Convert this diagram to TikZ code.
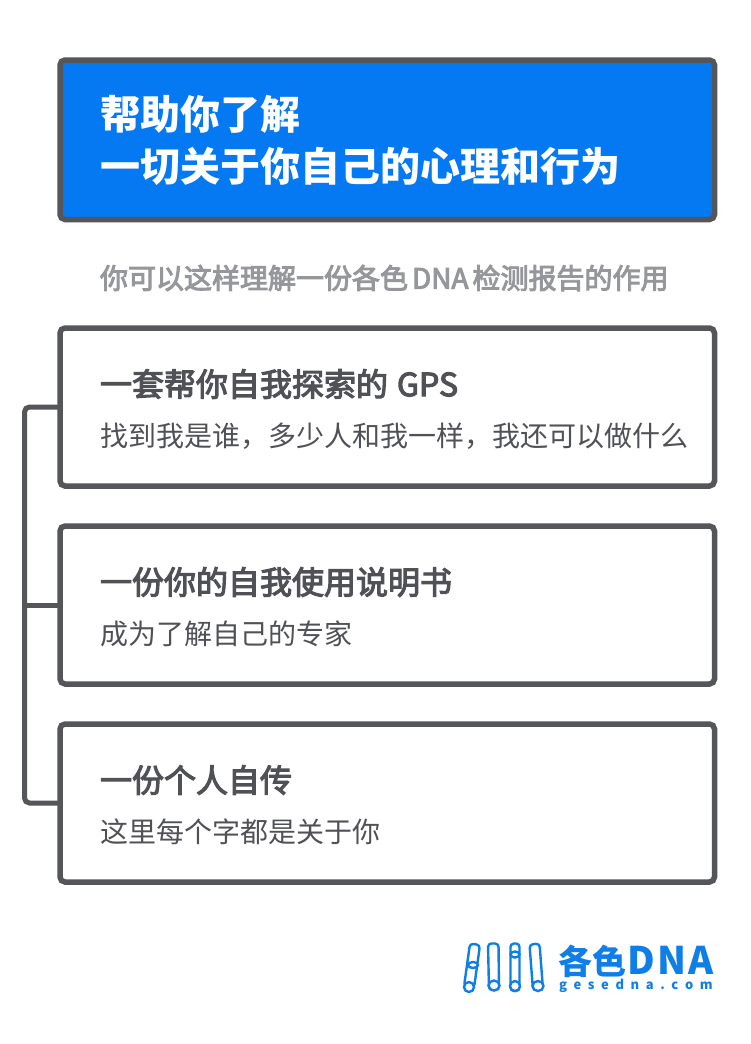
\documentclass[tikz,border=0pt]{standalone}
\usepackage{fontspec}
\setmainfont{Noto Sans CJK SC}
\newfontfamily\medf{Noto Sans CJK SC}[FakeBold=3.4]
\definecolor{edge}{HTML}{55565A}
\definecolor{blue}{HTML}{0579F2}
\definecolor{greyt}{HTML}{96979B}
\definecolor{darkt}{HTML}{505156}
\definecolor{logob}{HTML}{0F7FE6}
\tikzset{
 panel/.style={draw=edge,line width=5.5pt,rounded corners=5pt,minimum width=654.5pt,inner sep=0pt,outer sep=0pt,anchor=north west,fill=white},
 conn/.style={draw=edge,line width=5pt},
 txt/.style={anchor=west,inner sep=0pt,outer sep=0pt},
 tube/.style={draw=logob,line width=2.4pt,fill=white,rounded corners=3.5pt},
 ring/.style={draw=logob,line width=2.4pt,fill=white},
}
\begin{document}
\begin{tikzpicture}[x=1pt,y=-1pt]
\useasboundingbox (0,0) rectangle (750,1044);
\fill[white] (0,0) rectangle (750,1044);
\node[panel,fill=blue,minimum height=159.5pt] (top) at (60,60) {};
\node[panel,minimum height=158pt] (a) at (60,328) {};
\node[panel,minimum height=158pt] (b) at (60,526) {};
\node[panel,minimum height=158pt] (c) at (60,724) {};
\coordinate (rail) at (24.5,605);
\draw[conn,rounded corners=5pt] (a.west) -- (a.west -| rail) -- (c.west -| rail) -- (c.west);
\draw[conn] (b.west) -- (b.west -| rail);
\node[txt,text=white,font=\fontsize{40}{40}\selectfont\bfseries] (t1) at (100,114) {帮助你了解};
\node[txt,text=white,font=\fontsize{40}{40}\selectfont\bfseries] (t2) at (100,166) {一切关于你自己的心理和行为};
\node[txt,text=greyt,font=\fontsize{28}{28}\selectfont\medf] (s) at (100,278) {你可以这样理解一份各色\hspace{4pt}DNA\hspace{4pt}检测报告的作用};
\node[txt,text=darkt,font=\fontsize{32}{32}\selectfont\medf] (ah) at (100,384) {一套帮你自我探索的\hspace{9pt}GPS};
\node[txt,text=darkt,font=\fontsize{28}{28}\selectfont] (as) at (100,436) {找到我是谁，多少人和我一样，我还可以做什么};
\node[txt,text=darkt,font=\fontsize{32}{32}\selectfont\medf] (bh) at (100,582) {一份你的自我使用说明书};
\node[txt,text=darkt,font=\fontsize{28}{28}\selectfont] (bs) at (100,634) {成为了解自己的专家};
\node[txt,text=darkt,font=\fontsize{32}{32}\selectfont\medf] (ch) at (100,780) {一份个人自传};
\node[txt,text=darkt,font=\fontsize{28}{28}\selectfont] (cs) at (100,832) {这里每个字都是关于你};
% logo
\draw[tube] (470,943.5) -- (480,945) -- (474,988) -- (464,986.5) -- cycle;
\draw[ring] (469,987) ellipse (5 and 5);
\draw[ring] (473,965) ellipse (5 and 3);
\draw[tube] (488,943.5) -- (498.5,943.5) -- (499,990) -- (489,990) -- cycle;
\draw[ring] (494,985.5) ellipse (5.5 and 5);
\draw[tube] (510.5,943.5) -- (519.5,943.5) -- (519.5,991) -- (510.5,991) -- cycle;
\draw[ring] (515,986) ellipse (5 and 5);
\draw[ring] (515,954.5) ellipse (4.5 and 3);
\draw[tube] (529.5,944.5) -- (539.5,943.5) -- (543,989) -- (533,990) -- cycle;
\draw[ring] (538,986) ellipse (5.5 and 5);
\node[txt,text=logob,font=\fontsize{34}{34}\selectfont\bfseries] (lg) at (558,961) {各色\hspace{1pt}{\fontsize{38}{38}\selectfont D\hspace{2.5pt}N\hspace{2.5pt}A}};
\node[txt,text=logob,font=\fontsize{13}{13}\selectfont\bfseries] (lu) at (559,985.5) {g\hspace{6.6pt}e\hspace{6.6pt}s\hspace{6.6pt}e\hspace{6.6pt}d\hspace{6.6pt}n\hspace{6.6pt}a\hspace{6.6pt}.\hspace{6.6pt}c\hspace{6.6pt}o\hspace{6.6pt}m};
\end{tikzpicture}
\end{document}
